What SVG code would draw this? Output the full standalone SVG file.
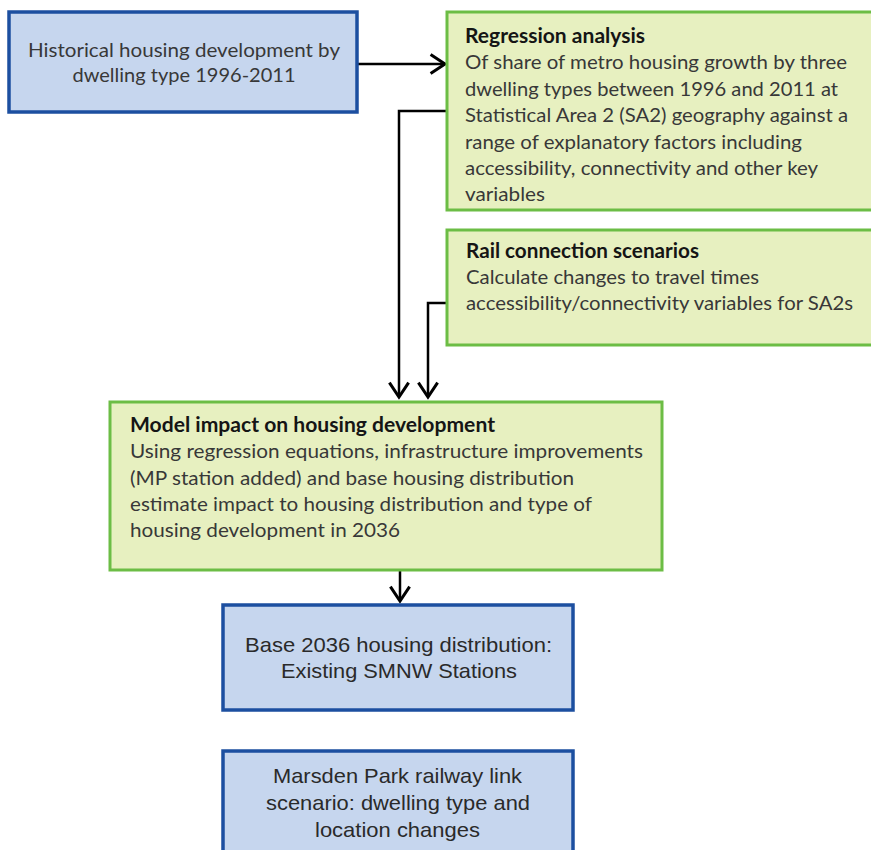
<svg xmlns="http://www.w3.org/2000/svg" width="871" height="850" viewBox="0 0 871 850">
<defs>
<style>
.blue{fill:#c6d6ee;stroke:#1c4fa0;stroke-width:3.5}
.green{fill:#e7f0c0;stroke:#6cbd45;stroke-width:3}
.t{font-family:Lato,"Liberation Sans",sans-serif;font-size:20px;fill:#383838}
.b{font-family:Lato,"Liberation Sans",sans-serif;font-size:20px;font-weight:bold;fill:#151515}
.a{font-family:"Liberation Sans",Arial,sans-serif;font-size:21px;fill:#2a2a2a}
.c{fill:none;stroke:#000;stroke-width:2.5}
</style>
<marker id="arr" markerUnits="userSpaceOnUse" markerWidth="24" markerHeight="24" viewBox="-14 -10 16 20" refX="0" refY="0" orient="auto">
<path d="M-12,-8 L0,0 L-12,8" fill="none" stroke="#000" stroke-width="2.5"/>
</marker>
</defs>
<rect width="871" height="850" fill="#fff"/>
<g id="connectors">
<path class="c" d="M357,64 H445" marker-end="url(#arr)"/>
<path class="c" d="M447,111 H399 V397" marker-end="url(#arr)"/>
<path class="c" d="M447,303 H428 V397" marker-end="url(#arr)"/>
<path class="c" d="M400,571 V601" marker-end="url(#arr)"/>
</g>
<g id="historical">
<rect class="blue" x="9" y="12" width="348" height="100"/>
<text class="t" x="184" y="57" text-anchor="middle" textLength="312" lengthAdjust="spacingAndGlyphs">Historical housing development by</text>
<text class="t" x="184" y="82" text-anchor="middle" textLength="223" lengthAdjust="spacingAndGlyphs">dwelling type 1996-2011</text>
</g>
<g id="regression">
<rect class="green" x="447" y="12" width="440" height="198"/>
<text class="b" x="465" y="43" textLength="180" lengthAdjust="spacingAndGlyphs">Regression analysis</text>
<text class="t" x="465" y="69" textLength="382" lengthAdjust="spacingAndGlyphs">Of share of metro housing growth by three</text>
<text class="t" x="465" y="96" textLength="373" lengthAdjust="spacingAndGlyphs">dwelling types between  1996 and 2011 at</text>
<text class="t" x="465" y="122" textLength="383" lengthAdjust="spacingAndGlyphs">Statistical Area 2 (SA2) geography against a</text>
<text class="t" x="465" y="149" textLength="337" lengthAdjust="spacingAndGlyphs">range of explanatory factors including</text>
<text class="t" x="465" y="175" textLength="353" lengthAdjust="spacingAndGlyphs">accessibility, connectivity and other key</text>
<text class="t" x="465" y="201" textLength="80" lengthAdjust="spacingAndGlyphs">variables</text>
</g>
<g id="rail">
<rect class="green" x="447" y="230" width="440" height="115"/>
<text class="b" x="466" y="258" textLength="233" lengthAdjust="spacingAndGlyphs">Rail connection scenarios</text>
<text class="t" x="466" y="284" textLength="293" lengthAdjust="spacingAndGlyphs">Calculate changes to travel times</text>
<text class="t" x="466" y="310" textLength="387" lengthAdjust="spacingAndGlyphs">accessibility/connectivity variables for SA2s</text>
</g>
<g id="model">
<rect class="green" x="110" y="402" width="552" height="168"/>
<text class="b" x="130" y="432" textLength="365" lengthAdjust="spacingAndGlyphs">Model impact on housing development</text>
<text class="t" x="130" y="458" textLength="513" lengthAdjust="spacingAndGlyphs">Using regression equations, infrastructure improvements</text>
<text class="t" x="130" y="485" textLength="444" lengthAdjust="spacingAndGlyphs">(MP station added) and base housing distribution</text>
<text class="t" x="130" y="511" textLength="462" lengthAdjust="spacingAndGlyphs">estimate impact to housing distribution and type of</text>
<text class="t" x="130" y="537" textLength="270" lengthAdjust="spacingAndGlyphs">housing development  in 2036</text>
</g>
<g id="base2036">
<rect class="blue" x="223" y="605" width="350" height="105"/>
<text class="a" x="398.5" y="652" text-anchor="middle" textLength="307" lengthAdjust="spacingAndGlyphs">Base 2036 housing distribution:</text>
<text class="a" x="399" y="678" text-anchor="middle" textLength="236" lengthAdjust="spacingAndGlyphs">Existing SMNW Stations</text>
</g>
<g id="marsden">
<rect class="blue" x="223" y="751" width="350" height="120"/>
<text class="a" x="397.5" y="783" text-anchor="middle" textLength="249" lengthAdjust="spacingAndGlyphs">Marsden Park railway link</text>
<text class="a" x="398" y="810" text-anchor="middle" textLength="264" lengthAdjust="spacingAndGlyphs">scenario: dwelling type and</text>
<text class="a" x="397.5" y="837" text-anchor="middle" textLength="165" lengthAdjust="spacingAndGlyphs">location changes</text>
</g>
</svg>
